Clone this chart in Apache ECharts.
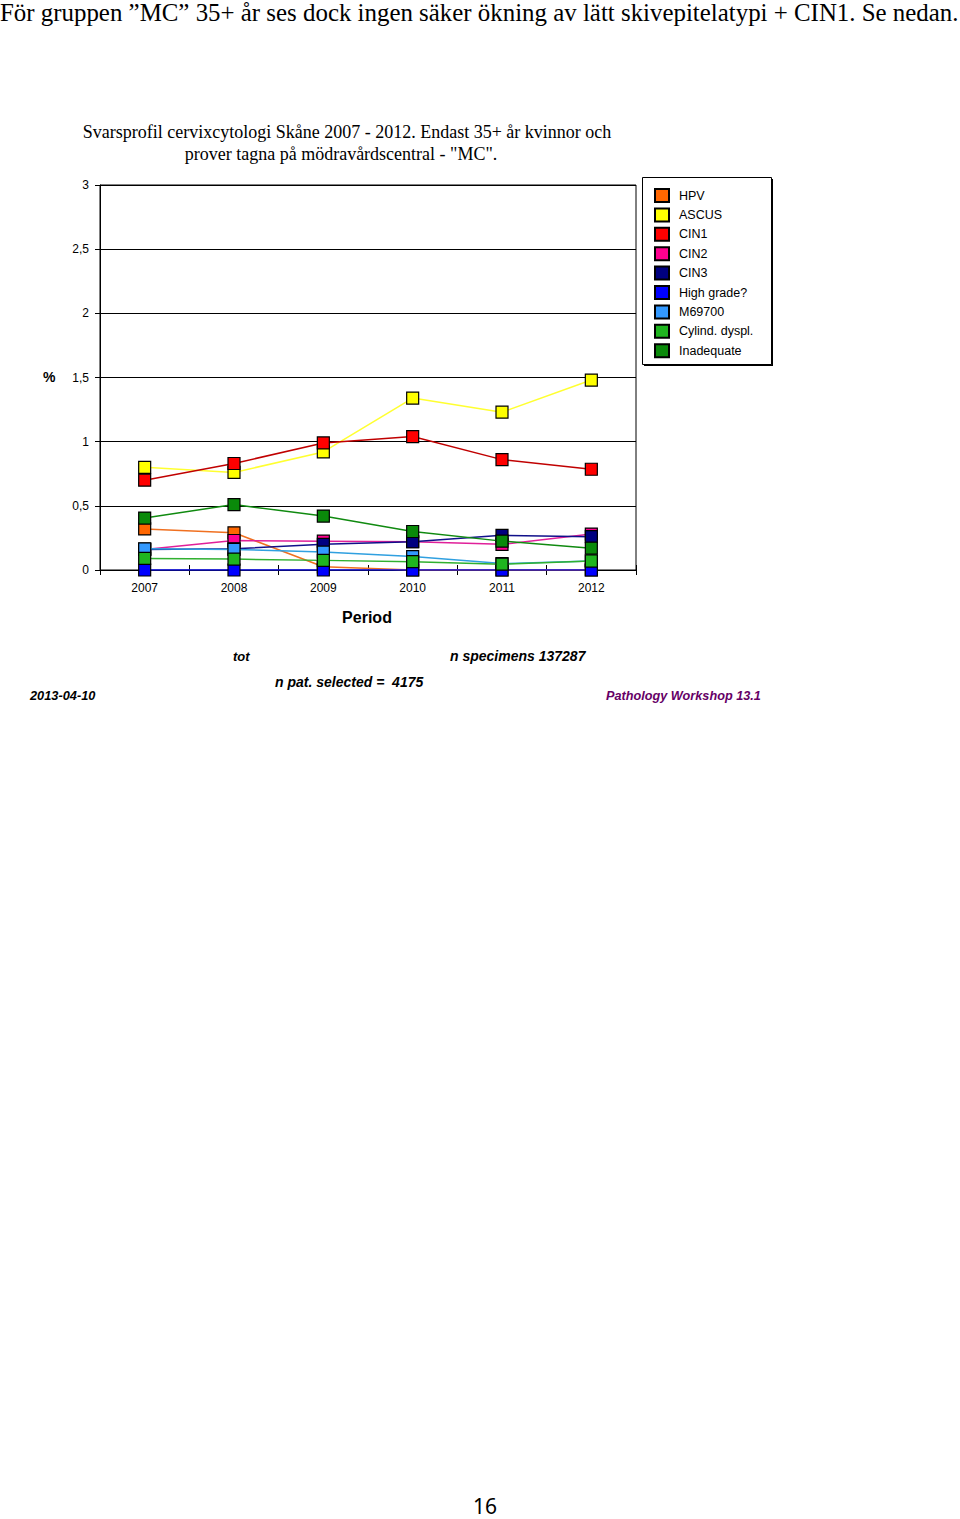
<!DOCTYPE html>
<html>
<head>
<meta charset="utf-8">
<script src="https://cdn.jsdelivr.net/npm/echarts@6/dist/echarts.min.js"></script>
<style>
html,body{margin:0;padding:0;background:#fff;}
#c{width:960px;height:1519px;}
</style>
</head>
<body>
<div id="c"></div>
<script>
const years = ['2007','2008','2009','2010','2011','2012'];
const yTickLabels = ['0','0,5','1','1,5','2','2,5','3'];
const seriesNames = ['HPV','ASCUS','CIN1','CIN2','CIN3','High grade?','M69700','Cylind. dyspl.','Inadequate'];
const hpv        = [0.32, 0.29, 0.025, 0.0, 0.0, 0.0];
const ascus      = [0.80, 0.76, 0.92, 1.34, 1.23, 1.48];
const cin1       = [0.70, 0.83, 0.99, 1.04, 0.86, 0.785];
const cin2       = [0.16, 0.23, 0.225, 0.22, 0.20, 0.28];
const cin3       = [0.16, 0.165, 0.20, 0.22, 0.27, 0.26];
const highGrade  = [0.0, 0.0, 0.0, 0.0, 0.0, 0.0];
const m69700     = [0.165, 0.16, 0.14, 0.105, 0.05, 0.07];
const cylind     = [0.09, 0.085, 0.075, 0.065, 0.045, 0.07];
const inadequate = [0.405, 0.51, 0.42, 0.30, 0.225, 0.17];

const seriesData = [hpv, ascus, cin1, cin2, cin3, highGrade, m69700, cylind, inadequate];
const markerColors = ['#FF6600','#FFFF00','#FF0000','#FF0090','#000080','#0000FF','#3399FF','#1FB51F','#0A8A0A'];
const lineColors   = ['#F07020','#FFFF30','#C00000','#E0209A','#10108A','#1010F0','#30A0E0','#30B030','#108A10'];

const chart = echarts.init(document.getElementById('c'), null, {renderer:'svg'});

const series = seriesNames.map((n,i)=>({
  name:n, type:'line', data:seriesData[i],
  symbol:'rect', symbolSize:12, showSymbol:true,
  itemStyle:{color:markerColors[i], borderColor:'#000', borderWidth:1.2},
  lineStyle:{color:lineColors[i], width:1.5},
  emphasis:{disabled:true}, animation:false, z: 2+i
}));

const font = 'Liberation Sans';
chart.setOption({
  animation:false,
  grid:{left:100, top:185, width:536, height:385, show:true, borderColor:'#000', borderWidth:1, backgroundColor:'transparent'},
  xAxis:[{
    type:'category', data:years, boundaryGap:true,
    axisLine:{lineStyle:{color:'#000', width:1}},
    axisTick:{show:true, length:5, lineStyle:{color:'#000'}},
    axisLabel:{color:'#000', fontFamily:font, fontSize:12, margin:12}
  },{
    type:'category', data:years, boundaryGap:true, position:'bottom',
    axisLine:{show:false}, axisLabel:{show:false},
    axisTick:{show:true, inside:true, length:5, lineStyle:{color:'#000'}}
  }],
  yAxis:{
    type:'value', min:0, max:3, interval:0.5,
    axisLine:{show:true, lineStyle:{color:'#000'}},
    axisTick:{show:true, length:5, lineStyle:{color:'#000'}},
    splitLine:{show:true, lineStyle:{color:'#000', width:1}},
    axisLabel:{color:'#000', fontFamily:font, fontSize:12, margin:11,
      formatter:(v)=>yTickLabels[Math.round(v*2)]}
  },
  legend:{
    orient:'vertical', left:654, top:188, padding:0,
    itemWidth:14, itemHeight:13, itemGap:4.4, icon:'rect',
    data:seriesNames,
    textStyle:{color:'#000', fontFamily:font, fontSize:12.5, padding:[0,0,0,5]},
    selectedMode:false, z:10
  },
  graphic:[
    {type:'rect', shape:{x:644, y:179, width:129, height:187}, style:{fill:'#000'}, z:0},
    {type:'rect', shape:{x:642.5, y:177.5, width:129, height:187}, style:{fill:'#fff', stroke:'#000', lineWidth:1}, z:1},
    {type:'text', x:0, y:0, style:{text:'För gruppen ”MC” 35+ år ses dock ingen säker ökning av lätt skivepitelatypi + CIN1. Se nedan.', font:'24.9px "Liberation Serif"', fill:'#000'}},
    {type:'text', x:347, y:123, style:{text:'Svarsprofil cervixcytologi Skåne 2007 - 2012. Endast 35+ år kvinnor och', font:'18px "Liberation Serif"', fill:'#000', align:'center'}},
    {type:'text', x:341, y:145, style:{text:'prover tagna på mödravårdscentral - "MC".', font:'18px "Liberation Serif"', fill:'#000', align:'center'}},
    {type:'text', x:43, y:370, style:{text:'%', font:'bold 14px "Liberation Sans"', fill:'#000'}},
    {type:'text', x:367, y:609, style:{text:'Period', font:'bold 16px "Liberation Sans"', fill:'#000', align:'center'}},
    {type:'text', x:233, y:650, style:{text:'tot', font:'italic bold 13px "Liberation Sans"', fill:'#000'}},
    {type:'text', x:450, y:649, style:{text:'n specimens 137287', font:'italic bold 14px "Liberation Sans"', fill:'#000'}},
    {type:'text', x:275, y:675, style:{text:'n pat. selected =  4175', font:'italic bold 14px "Liberation Sans"', fill:'#000'}},
    {type:'text', x:30, y:689, style:{text:'2013-04-10', font:'italic bold 12.8px "Liberation Sans"', fill:'#000'}},
    {type:'text', x:606, y:689, style:{text:'Pathology Workshop 13.1', font:'italic bold 12.7px "Liberation Sans"', fill:'#660066'}},
    {type:'text', x:485, y:1495, style:{text:'16', font:'21px "Noto Sans"', fill:'#000', align:'center'}}
  ],
  series: series
});
</script>
</body>
</html>
